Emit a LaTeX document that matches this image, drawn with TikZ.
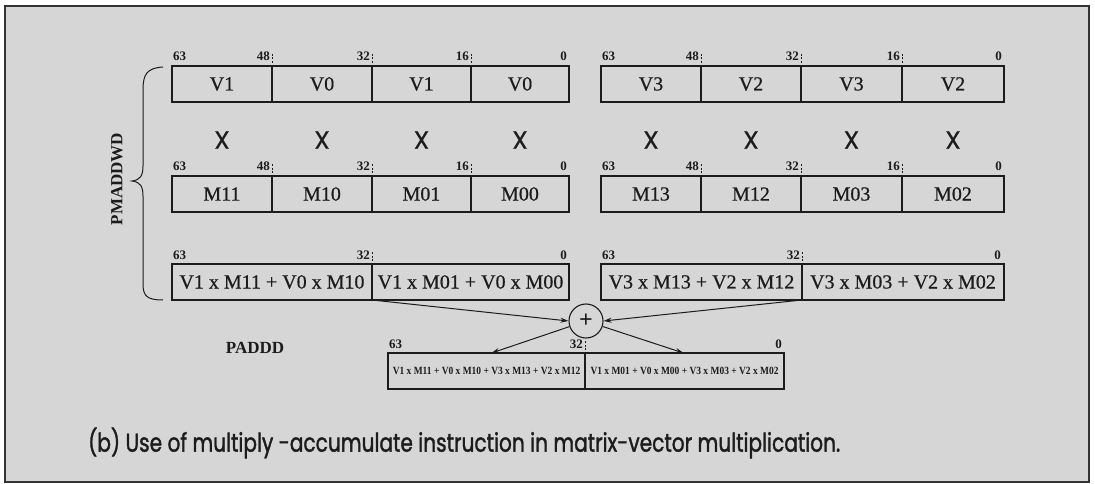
\documentclass[tikz,border=0pt]{standalone}
\usepackage{fontspec}
\usepackage{graphicx}
\setmainfont{Liberation Serif}
\newfontfamily\capfont{Poppins}[FakeBold=1.6]
\newfontfamily\mulfont{Poppins}[FakeBold=0.5]
\newfontfamily\boxfont{Liberation Serif}[FakeBold=0.6]
\usetikzlibrary{arrows.meta}
\definecolor{bg}{RGB}{214,214,214}
\definecolor{ink}{RGB}{28,28,28}
\newcommand\bitsfour[6]{% prefix, top y, x0, d1, d2, d3
  \node[bit, anchor=base west] (#1a) at (#3+1,#2-5) {63};
  \node[bit, anchor=base east] (#1b) at (#4-2,#2-5) {48};
  \node[bit, anchor=base east] (#1c) at (#5-2,#2-5) {32};
  \node[bit, anchor=base east] (#1d) at (#6-2,#2-5) {16};
}
\newcommand\bitszero[3]{% prefix, top y, xr
  \node[bit, anchor=base east] (#1z) at (#3-2,#2-5) {0};
}
\begin{document}
\begin{tikzpicture}[x=1pt,y=-1pt,
  cell/.style={draw=ink, line width=1.1pt, minimum height=36pt, inner sep=0pt, outer sep=0pt, anchor=north west, font=\boxfont\fontsize{20}{20}\selectfont, text=ink},
  tiny/.style={cell, font=\bfseries\fontsize{11}{11}\selectfont},
  bit/.style={font=\bfseries\fontsize{13}{13}\selectfont, inner sep=0pt, text=ink},
  tickmark/.style={draw=ink, dash pattern=on 2pt off 1.5pt, line width=0.7pt},
  mul/.style={font=\mulfont\fontsize{25}{25}\selectfont, inner sep=0pt, text=ink},
  lbl/.style={font=\bfseries\fontsize{17}{17}\selectfont, inner sep=0pt, text=ink},
  arr/.style={draw=ink, line width=1pt, -{Stealth[length=8pt,width=5pt]}}
]
\useasboundingbox (0,0) rectangle (1095,484);
\fill[white] (0,0) rectangle (1095,484);
\draw[fill=bg, draw=ink!90, line width=2pt] (5,6) rectangle (1089,482);

% row 1
\node[cell, minimum width=100pt] (a1) at (172,66) {V1};
\node[cell, minimum width=100pt] (a2) at (272,66) {V0};
\node[cell, minimum width=99pt] (a3) at (372,66) {V1};
\node[cell, minimum width=98pt] (a4) at (471,66) {V0};
\node[cell, minimum width=100pt] (b1) at (601,66) {V3};
\node[cell, minimum width=100pt] (b2) at (701,66) {V2};
\node[cell, minimum width=101pt] (b3) at (801,66) {V3};
\node[cell, minimum width=102pt] (b4) at (902,66) {V2};
\bitsfour{ra}{66}{172}{272}{372}{471}\bitszero{ra}{66}{569}
\bitsfour{rb}{66}{601}{701}{801}{902}\bitszero{rb}{66}{1004}

% X signs
\foreach \n/\c in {x1/a1,x2/a2,x3/a3,x4/a4,x5/b1,x6/b2,x7/b3,x8/b4}
  \node[mul] (\n) at (\c.center |- 0,140) {X};

% row 2
\node[cell, minimum width=100pt] (c1) at (172,176) {M11};
\node[cell, minimum width=100pt] (c2) at (272,176) {M10};
\node[cell, minimum width=99pt] (c3) at (372,176) {M01};
\node[cell, minimum width=98pt] (c4) at (471,176) {M00};
\node[cell, minimum width=100pt] (d1) at (601,176) {M13};
\node[cell, minimum width=100pt] (d2) at (701,176) {M12};
\node[cell, minimum width=101pt] (d3) at (801,176) {M03};
\node[cell, minimum width=102pt] (d4) at (902,176) {M02};
\bitsfour{rc}{176}{172}{272}{372}{471}\bitszero{rc}{176}{569}
\bitsfour{rd}{176}{601}{701}{801}{902}\bitszero{rd}{176}{1004}

% row 3
\node[cell, minimum width=200pt] (e1) at (172,264) {V1 x M11 + V0 x M10};
\node[cell, minimum width=197pt] (e2) at (372,264) {V1 x M01 + V0 x M00};
\node[cell, minimum width=201pt] (f1) at (601,264) {V3 x M13 + V2 x M12};
\node[cell, minimum width=202pt] (f2) at (802,264) {V3 x M03 + V2 x M02};
\node[bit, anchor=base west] (re63) at (173,259) {63};
\node[bit, anchor=base east] (re32) at (370,259) {32};
\node[bit, anchor=base east] (re0) at (567,259) {0};
\node[bit, anchor=base west] (rf63) at (602,259) {63};
\node[bit, anchor=base east] (rf32) at (800,259) {32};
\node[bit, anchor=base east] (rf0) at (1001,259) {0};

% ticks
\foreach \xx/\yy in {272/66,372/66,471/66,701/66,801/66,902/66,
                     272/176,372/176,471/176,701/176,801/176,902/176,
                     372/264,802/264,585/353}
  \draw[tickmark] (\xx,\yy-3) -- (\xx,\yy-13);

% plus and result
\node[circle, draw=ink, line width=1.1pt, minimum size=34pt, inner sep=0pt, font=\bfseries\fontsize{24}{24}\selectfont, text=ink] (plus) at (586,321) {+};
\node[tiny, minimum width=197pt] (g1) at (388,353) {\scalebox{0.86}[1]{V1 x M11 + V0 x M10 + V3 x M13 + V2 x M12}};
\node[tiny, minimum width=199pt] (g2) at (585,353) {\scalebox{0.86}[1]{V1 x M01 + V0 x M00 + V3 x M03 + V2 x M02}};
\node[bit, anchor=base west] (rg63) at (389,348) {63};
\node[bit, anchor=base east] (rg32) at (583,348) {32};
\node[bit, anchor=base east] (rg0) at (782,348) {0};

\draw[arr] (e1.south east) -- (plus.west);
\draw[arr] (f1.south east) -- (plus.east);
\draw[arr] (plus) -- ([xshift=5pt]g1.north);
\draw[arr] (plus) -- ([xshift=-1pt]g2.north);

% brace and labels
\draw[ink, line width=1pt] (163,67) .. controls (147,68) and (143,74) .. (143,90) -- (143,166)
  .. controls (143,176) and (140,180) .. (132,181) .. controls (140,182) and (143,186) .. (143,196)
  -- (143,284) .. controls (143,296) and (147,300) .. (163,300);
\node[lbl, rotate=90] (pm) at (117,179) {PMADDWD};
\node[lbl] (pa) at (255,348) {PADDD};

% caption
\node[anchor=west, inner sep=0pt, text=ink] (cap) at (88,443)
  {\resizebox{752pt}{24pt}{\capfont (b) Use of multiply -accumulate instruction in matrix-vector multiplication.}};
\end{tikzpicture}
\end{document}
